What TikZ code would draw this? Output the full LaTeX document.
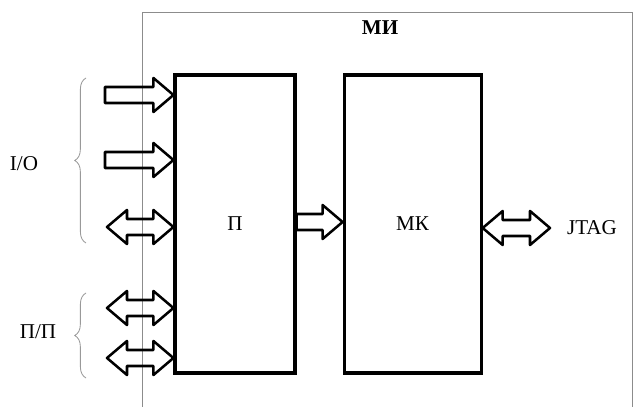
\documentclass[tikz,border=0pt]{standalone}
\usepackage{fontspec}
\setmainfont{Liberation Serif}
\usetikzlibrary{arrows.meta, positioning, calc, decorations.pathreplacing}

\begin{document}
\begin{tikzpicture}[x=0.025cm, y=-0.025cm,
        % Node Styles
        block/.style={rectangle, draw, line width=2.2pt, minimum height=7.45cm, inner sep=0pt},
        label/.style={font=\fontsize{15}{17}\selectfont},
        frame/.style={draw=black!45, line width=0.7pt},
        % block arrows (shaft half height 8, head half height 17, head length 20)
        bus/.style={draw, line width=1.8pt, line join=round, to path={
            ($(\tikztostart)+(0,-8)$) -- ($(\tikztotarget)+(-20,-8)$) -- ($(\tikztotarget)+(-20,-17)$)
            -- (\tikztotarget) -- ($(\tikztotarget)+(-20,17)$) -- ($(\tikztotarget)+(-20,8)$)
            -- ($(\tikztostart)+(0,8)$) -- cycle}},
        bibus/.style={draw, line width=1.8pt, line join=round, to path={
            (\tikztostart) -- ($(\tikztostart)+(20,-17)$) -- ($(\tikztostart)+(20,-8)$)
            -- ($(\tikztotarget)+(-20,-8)$) -- ($(\tikztotarget)+(-20,-17)$)
            -- (\tikztotarget) -- ($(\tikztotarget)+(-20,17)$) -- ($(\tikztotarget)+(-20,8)$)
            -- ($(\tikztostart)+(20,8)$) -- ($(\tikztostart)+(20,17)$) -- cycle}},
        grp/.style={draw=black!40, line width=0.6pt, decorate, decoration={brace, amplitude=8pt}}
    ]
    \useasboundingbox (0,0) rectangle (634,407);

    % --- Outer module frame ---
    \draw[frame] (142,410) |- (632,12) -- (632,410);
    \node[label, font=\fontsize{15}{17}\selectfont\bfseries] (mi) at (380,28) {МИ};

    % --- Blocks ---
    \node[block, minimum width=3cm] (p) at (235,224) {};
    \node[label] at (p.center) {П};
    \node[block, minimum width=3.425cm, right=1.15cm of p] (mk) {};
    \node[label] at (mk.center) {МК};
    \node[label] (jtag) at (592,228) {JTAG};

    % --- Inputs on the left ---
    \coordinate (in1) at (105,95);
    \coordinate (in2) at (105,160);
    \coordinate (io3) at (107,227);
    \coordinate (pp1) at (107,308);
    \coordinate (pp2) at (107,358);
    \draw[bus] (in1) to (p.west |- in1);
    \draw[bus] (in2) to (p.west |- in2);
    \draw[bibus] (io3) to (p.west |- io3);
    \draw[bibus] (pp1) to (p.west |- pp1);
    \draw[bibus] (pp2) to (p.west |- pp2);

    % --- Internal links ---
    \draw[bus] (p.east |- 0,222) to (mk.west |- 0,222);
    \coordinate (jt) at (550,228);
    \draw[bibus] (mk.east |- jt) to (jt);

    % --- Groups ---
    \coordinate (io-b) at (86,243);
    \coordinate (io-t) at (86,78);
    \draw[grp] (io-b) -- (io-t);
    \node[label] (io) at (24,164) {I/O};
    \coordinate (pp-b) at (86,378);
    \coordinate (pp-t) at (86,293);
    \draw[grp] (pp-b) -- (pp-t);
    \node[label] (pp) at (38,332) {П/П};

\end{tikzpicture}
\end{document}
